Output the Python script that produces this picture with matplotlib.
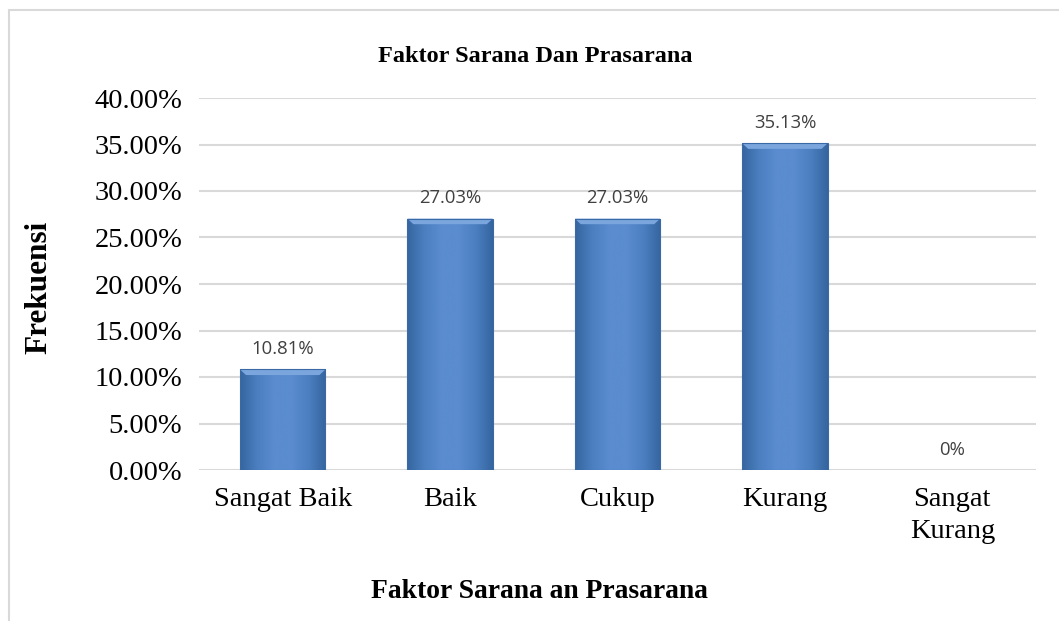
import numpy as np
import matplotlib.pyplot as plt
from matplotlib.colors import LinearSegmentedColormap
from matplotlib.patches import Rectangle, Polygon

categories = ['Sangat Baik', 'Baik', 'Cukup', 'Kurang', 'Sangat\nKurang']
values = [10.81, 27.03, 27.03, 35.13, 0.0]
labels = ['10.81%', '27.03%', '27.03%', '35.13%', '0%']
yticks = [0, 5, 10, 15, 20, 25, 30, 35, 40]

serif = 'Liberation Serif'
bar_cmap = LinearSegmentedColormap.from_list(
    'bevel', ['#35659f', '#4b7fc0', '#5a8ccf', '#5a8ccf', '#4b7fc0', '#35659f'])

fig = plt.figure(figsize=(10.59, 6.21), dpi=100)
ax = fig.add_axes([199 / 1059, 1 - 470 / 621, 837 / 1059, 372 / 621])

x = np.arange(len(categories))
bars = ax.bar(x, values, width=0.51, color='#4f81bd', zorder=2)

# horizontal gradient inside each bar for the Excel bevel look
grad = np.linspace(0, 1, 256).reshape(1, -1)
for b in bars:
    h = b.get_height()
    if h <= 0:
        continue
    x0, w = b.get_x(), b.get_width()
    b.set_facecolor('none')
    b.set_edgecolor('none')
    im = ax.imshow(grad, cmap=bar_cmap, aspect='auto', extent=(x0, x0 + w, 0, h), zorder=3)
    im.set_clip_path(Rectangle((x0, 0), w, h, transform=ax.transData))
    # top bevel
    d = 0.6
    dx = w * 0.07
    ax.add_patch(Polygon([(x0, h), (x0 + w, h), (x0 + w - dx, h - d), (x0 + dx, h - d)],
                         closed=True, color='#7aa5dd', lw=0, zorder=4))
    ax.add_patch(Rectangle((x0, 0), w, h, fill=False, edgecolor='#3a6aa6', lw=0.8, zorder=5))

for xi, v, lab in zip(x, values, labels):
    ax.text(xi, v + 1.2, lab, ha='center', va='bottom', fontsize=13.3,
            color='#404040', family='Open Sans')

ax.set_xlim(-0.5, len(categories) - 0.5)
ax.set_ylim(0, 40)
ax.set_yticks(yticks)
ax.set_yticklabels([f'{t:.2f}%' for t in yticks], fontsize=20.5, family=serif)
ax.set_xticks(x)
ax.set_xticklabels(categories, fontsize=20.5, family=serif, linespacing=1.36)
ax.tick_params(axis='both', length=0, pad=12)
ax.tick_params(axis='x', pad=12.5)
ax.yaxis.grid(True, color='#d9d9d9', lw=1.5, zorder=0)
ax.set_axisbelow(True)
for s in ax.spines.values():
    s.set_visible(False)

fig.text(535 / 1059, 1 - 57 / 621, 'Faktor Sarana Dan Prasarana', ha='center', va='center',
         fontsize=17.5, fontweight='bold', family=serif)
fig.text(539 / 1059, 1 - 592 / 621, 'Faktor Sarana an Prasarana', ha='center', va='center',
         fontsize=19.9, fontweight='bold', family=serif)
fig.text(39 / 1059, 1 - 287 / 621, 'Frekuensi', ha='center', va='center', rotation=90,
         fontsize=22.5, fontweight='bold', family=serif)

# outer chart frame (right and bottom edges run off the picture)
fig.add_artist(Rectangle((9 / 1059, -0.01), 1.05, 1 - 10 / 621 + 0.01, transform=fig.transFigure,
                         fill=False, edgecolor='#d9d9d9', lw=1.5))

fig.savefig('out.png', dpi=100)
